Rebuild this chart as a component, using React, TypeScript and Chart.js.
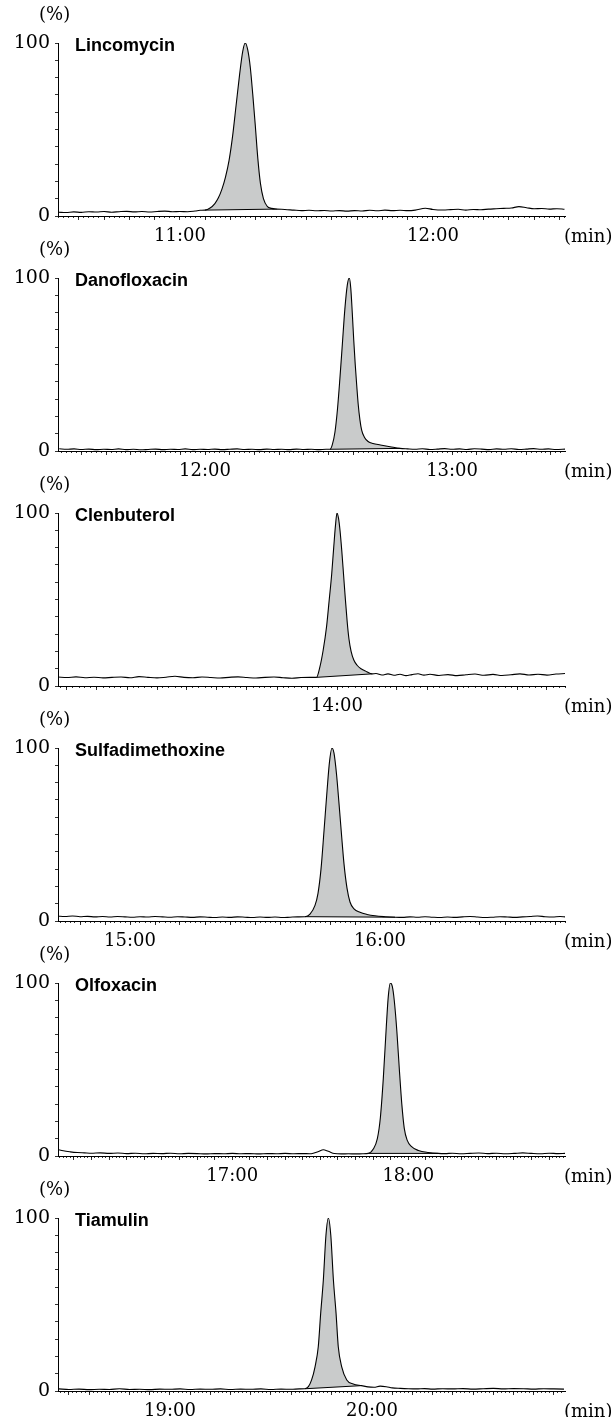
import React, { useEffect, useRef } from "react";
import { Chart, registerables } from "chart.js";

Chart.register(...registerables);

type Pt = [number, number];

// ---------- data (time in min, intensity in %) ----------
const lincomycin: Pt[] = [
  [10.52, 2.2], [10.55, 2.0], [10.58, 2.4], [10.61, 2.1], [10.64, 2.5], [10.67, 2.3], [10.7, 2.6], [10.73, 2.2],
  [10.76, 2.5], [10.79, 2.7], [10.82, 2.4], [10.85, 2.6], [10.88, 2.3], [10.91, 2.6], [10.94, 2.8], [10.97, 2.5],
  [11.0, 2.6], [11.03, 2.5], [11.06, 2.9], [11.08, 3.3],
  [11.099, 3.4], [11.119, 4.6], [11.138, 7.2], [11.152, 10.5], [11.166, 15.5], [11.18, 22.5], [11.194, 32],
  [11.208, 46], [11.222, 64], [11.236, 82], [11.248, 95], [11.258, 100], [11.268, 96], [11.278, 86],
  [11.288, 70], [11.298, 52], [11.308, 33], [11.318, 19], [11.33, 10], [11.345, 5.6], [11.362, 4.4], [11.382, 4.0],
  [11.415, 3.8], [11.45, 3.4], [11.48, 3.1], [11.51, 3.3], [11.54, 3.0], [11.57, 3.2], [11.6, 2.9], [11.63, 3.1],
  [11.66, 2.8], [11.69, 3.1], [11.72, 2.9], [11.75, 3.3], [11.78, 3.0], [11.81, 3.4], [11.84, 3.1], [11.87, 3.3],
  [11.9, 3.1], [11.93, 3.4], [11.97, 4.5], [12.0, 3.8], [12.04, 3.5], [12.07, 3.7], [12.1, 3.9], [12.13, 3.4],
  [12.16, 3.8], [12.19, 3.6], [12.22, 4.0], [12.25, 4.2], [12.28, 4.4], [12.31, 4.6], [12.34, 5.4], [12.37, 4.8],
  [12.4, 4.2], [12.43, 4.3], [12.46, 4.0], [12.49, 4.2], [12.52, 3.9],
];

const danofloxacin: Pt[] = [
  [11.41, 1.3], [11.44, 1.0], [11.47, 1.2], [11.5, 0.9], [11.53, 1.1], [11.56, 0.8], [11.59, 1.0], [11.62, 0.9],
  [11.65, 1.2], [11.68, 0.8], [11.71, 1.0], [11.74, 0.7], [11.77, 0.9], [11.8, 1.1], [11.83, 0.8], [11.86, 1.0],
  [11.89, 0.9], [11.92, 1.2], [11.95, 0.8], [11.98, 1.0], [12.01, 0.9], [12.04, 1.1], [12.07, 0.8], [12.1, 1.0],
  [12.13, 1.2], [12.16, 0.9], [12.19, 1.0], [12.22, 0.8], [12.25, 1.1], [12.28, 0.9], [12.31, 1.0], [12.34, 0.8],
  [12.37, 1.1], [12.4, 0.9], [12.43, 1.0], [12.46, 0.8], [12.49, 1.0],
  [12.506, 1.0], [12.515, 3.5], [12.526, 11], [12.536, 24], [12.546, 42], [12.556, 62], [12.566, 82],
  [12.576, 96], [12.584, 100], [12.59, 94], [12.596, 80], [12.602, 64], [12.608, 50], [12.614, 38],
  [12.62, 27], [12.627, 18], [12.634, 12], [12.645, 8], [12.66, 5.5], [12.68, 4.3], [12.71, 3.5],
  [12.749, 2.5], [12.789, 1.5],
  [12.82, 1.2], [12.85, 1.0], [12.88, 1.3], [12.91, 0.9], [12.94, 1.1], [12.97, 1.4], [13.0, 1.0], [13.03, 1.2],
  [13.06, 0.9], [13.09, 1.3], [13.12, 1.1], [13.15, 0.8], [13.18, 1.2], [13.21, 1.0], [13.24, 1.3], [13.27, 0.9],
  [13.3, 1.1], [13.33, 1.4], [13.36, 1.0], [13.39, 1.2], [13.42, 0.9], [13.46, 1.1],
];

const clenbuterol: Pt[] = [
  [13.07, 5.2], [13.1, 4.9], [13.13, 5.3], [13.16, 4.8], [13.19, 5.1], [13.22, 4.7], [13.25, 5.0], [13.28, 5.2],
  [13.31, 4.8], [13.34, 5.4], [13.37, 5.0], [13.4, 4.7], [13.43, 5.1], [13.46, 5.6], [13.49, 5.0], [13.52, 4.8],
  [13.55, 5.2], [13.58, 4.9], [13.61, 4.6], [13.64, 5.0], [13.67, 5.3], [13.7, 4.9], [13.73, 4.6], [13.76, 5.0],
  [13.79, 5.2], [13.82, 4.8], [13.85, 4.5], [13.88, 4.9], [13.91, 5.0],
  [13.932, 5.0], [13.943, 11], [13.954, 20.8], [13.965, 34], [13.974, 49.7], [13.982, 64], [13.989, 80],
  [13.995, 93], [14.0, 100], [14.005, 97], [14.01, 90], [14.016, 78], [14.022, 64], [14.028, 50], [14.034, 37],
  [14.04, 27], [14.047, 20], [14.056, 15], [14.067, 12], [14.08, 10], [14.099, 8.3], [14.116, 7.0],
  [14.13, 7.2], [14.15, 6.4], [14.17, 7.0], [14.19, 6.2], [14.21, 6.8], [14.23, 6.0], [14.25, 6.6], [14.27, 7.1],
  [14.29, 6.3], [14.31, 6.8], [14.34, 6.1], [14.37, 6.6], [14.4, 6.0], [14.43, 6.5], [14.46, 6.9], [14.49, 6.2],
  [14.52, 6.7], [14.55, 6.1], [14.58, 6.5], [14.61, 7.0], [14.64, 6.4], [14.67, 6.8], [14.7, 6.3], [14.73, 6.9],
  [14.76, 7.2],
];

const sulfadimethoxine: Pt[] = [
  [14.71, 2.8], [14.74, 2.6], [14.77, 2.9], [14.8, 2.5], [14.83, 2.7], [14.86, 2.4], [14.89, 2.6], [14.92, 2.3],
  [14.95, 2.6], [14.98, 2.4], [15.01, 2.2], [15.04, 2.5], [15.07, 2.3], [15.1, 2.6], [15.13, 2.4], [15.16, 2.2],
  [15.19, 2.5], [15.22, 2.3], [15.25, 2.1], [15.28, 2.4], [15.31, 2.2], [15.34, 2.0], [15.37, 2.3], [15.4, 2.1],
  [15.43, 2.4], [15.46, 2.2], [15.49, 2.0], [15.52, 2.3], [15.55, 2.1], [15.58, 2.3], [15.61, 2.0], [15.64, 2.2],
  [15.67, 2.4],
  [15.7, 2.5], [15.72, 4], [15.74, 9], [15.752, 16], [15.764, 30], [15.776, 52], [15.788, 75], [15.798, 92],
  [15.808, 100], [15.816, 97], [15.826, 85], [15.836, 68], [15.846, 50], [15.856, 33], [15.868, 19], [15.88, 11],
  [15.896, 7], [15.92, 5], [15.948, 3.8], [15.98, 3], [16.02, 2.5], [16.06, 2.2],
  [16.09, 2.1], [16.12, 2.4], [16.15, 2.2], [16.18, 2.5], [16.21, 2.2], [16.24, 2.0], [16.27, 2.3], [16.3, 2.1],
  [16.33, 2.4], [16.36, 2.6], [16.39, 2.3], [16.42, 2.0], [16.45, 2.2], [16.48, 2.5], [16.51, 2.3], [16.54, 2.1],
  [16.57, 2.4], [16.6, 2.6], [16.63, 2.9], [16.66, 2.5], [16.69, 2.3], [16.72, 2.6], [16.74, 2.4],
];

const olfoxacin: Pt[] = [
  [16.01, 3.8], [16.04, 3.0], [16.08, 2.4], [16.12, 2.0], [16.16, 1.8], [16.2, 1.6], [16.25, 1.8], [16.3, 1.5],
  [16.35, 1.7], [16.4, 1.4], [16.45, 1.6], [16.5, 1.3], [16.55, 1.5], [16.6, 1.4], [16.65, 1.6], [16.7, 1.3],
  [16.75, 1.5], [16.8, 1.4], [16.85, 1.2], [16.9, 1.4], [16.95, 1.3], [17.0, 1.5], [17.05, 1.3], [17.1, 1.4],
  [17.15, 1.2], [17.2, 1.4], [17.25, 1.3], [17.3, 1.5], [17.35, 1.3], [17.4, 1.4], [17.44, 1.3], [17.46, 1.6],
  [17.49, 2.6], [17.517, 3.6], [17.545, 2.7], [17.58, 1.4], [17.62, 1.2], [17.66, 1.3], [17.7, 1.2], [17.74, 1.3],
  [17.773, 1.5], [17.801, 4], [17.824, 10], [17.841, 22], [17.858, 45], [17.875, 75], [17.886, 92], [17.898, 100],
  [17.909, 98], [17.92, 90], [17.935, 72], [17.949, 50], [17.963, 30], [17.977, 16], [17.994, 9], [18.017, 5.5],
  [18.057, 3.2], [18.114, 2.0], [18.17, 1.5],
  [18.21, 1.4], [18.25, 1.6], [18.3, 1.3], [18.35, 1.5], [18.4, 1.7], [18.45, 1.4], [18.5, 1.6], [18.55, 1.3],
  [18.6, 1.5], [18.65, 1.8], [18.7, 1.5], [18.75, 1.3], [18.8, 1.6], [18.85, 1.4], [18.89, 1.5],
];

const tiamulin: Pt[] = [
  [18.45, 1.2], [18.5, 0.9], [18.55, 1.1], [18.6, 0.8], [18.65, 1.0], [18.7, 0.9], [18.75, 1.3], [18.8, 0.9],
  [18.85, 1.0], [18.9, 0.8], [18.95, 1.1], [19.0, 1.0], [19.05, 1.2], [19.1, 0.9], [19.15, 1.1], [19.2, 1.0],
  [19.25, 1.2], [19.3, 0.9], [19.35, 1.1], [19.4, 1.0], [19.45, 1.2], [19.5, 0.9], [19.55, 1.1], [19.6, 1.0],
  [19.64, 1.2],
  [19.668, 1.3], [19.685, 2.5], [19.701, 6.4], [19.718, 14], [19.734, 25.6], [19.746, 45], [19.759, 64],
  [19.772, 90], [19.784, 100], [19.796, 90], [19.809, 64], [19.822, 45], [19.833, 25.6], [19.85, 14],
  [19.875, 6.4], [19.907, 4], [19.949, 3.1],
  [19.98, 2.4], [20.01, 2.2], [20.04, 2.8], [20.07, 2.5], [20.1, 1.8], [20.14, 1.5], [20.18, 1.3], [20.22, 1.2],
  [20.26, 1.4], [20.3, 1.1], [20.35, 1.3], [20.4, 1.2], [20.45, 1.4], [20.5, 1.1], [20.55, 1.3], [20.6, 1.5],
  [20.65, 1.2], [20.7, 1.4], [20.75, 1.3], [20.8, 1.1], [20.85, 1.3], [20.9, 1.2], [20.95, 1.1],
];

const compounds = ["Lincomycin", "Danofloxacin", "Clenbuterol", "Sulfadimethoxine", "Olfoxacin", "Tiamulin"];
const traces = [lincomycin, danofloxacin, clenbuterol, sulfadimethoxine, olfoxacin, tiamulin];
const peakStart = [11.099, 12.506, 13.932, 15.7, 17.773, 19.668];
const peakEnd = [11.382, 12.789, 14.116, 16.06, 18.17, 19.949];
const axisMin = [10.518, 11.405, 13.07, 14.712, 16.01, 18.446];
const axisMax = [12.522, 13.457, 14.76, 16.74, 18.89, 20.955];
const yTickValues = [0, 10, 20, 30, 40, 50, 60, 70, 80, 90, 100];
const yLabelValues = [0, 100];

// ---------- layout / style ----------
const PITCH = 235;
const CANVAS_H = 250;
const W = 611;
const SERIF = "'DejaVu Serif', serif";
const SANS = "'Liberation Sans', Arial, sans-serif";
const FILL = "#c9cbcb";
const FS = 18;

function stepTicks(min: number, max: number, perMin: number) {
  const out: { value: number }[] = [];
  const start = Math.ceil(min * perMin - 1e-9);
  const end = Math.floor(max * perMin + 1e-9);
  for (let i = start; i <= end; i++) out.push({ value: i / perMin });
  return out;
}

function Panel({ index }: { index: number }) {
  const ref = useRef<HTMLCanvasElement | null>(null);
  useEffect(() => {
    if (!ref.current) return;
    const pts = traces[index].map(([x, y]) => ({ x, y }));
    const s = peakStart[index];
    const e = peakEnd[index];
    const peak = pts.filter((p) => p.x >= s - 1e-9 && p.x <= e + 1e-9);
    const chord = [peak[0], peak[peak.length - 1]];
    const min = axisMin[index];
    const max = axisMax[index];
    const chart = new Chart(ref.current, {
      type: "line",
      data: {
        datasets: [
          {
            data: peak,
            fill: "shape",
            backgroundColor: FILL,
            borderWidth: 0,
            pointRadius: 0,
            cubicInterpolationMode: "monotone",
            order: 3,
          } as any,
          {
            data: chord,
            borderColor: "#000",
            borderWidth: 1,
            pointRadius: 0,
            fill: false,
            order: 2,
          },
          {
            data: pts,
            borderColor: "#000",
            borderWidth: 1.1,
            pointRadius: 0,
            fill: false,
            cubicInterpolationMode: "monotone",
            order: 1,
          },
        ],
      },
      options: {
        animation: false,
        responsive: false,
        events: [],
        layout: { padding: { top: 43, right: W - 565, left: 0, bottom: 0 } },
        plugins: { legend: { display: false }, tooltip: { enabled: false }, title: { display: false } },
        scales: {
          xm: {
            type: "linear",
            position: "bottom",
            min,
            max,
            weight: 0,
            afterBuildTicks: (sc: any) => {
              sc.ticks = stepTicks(min, max, 50);
            },
            afterFit: (sc: any) => {
              sc.height = 0;
            },
            ticks: { display: false, autoSkip: false },
            grid: { drawOnChartArea: false, tickLength: 2, color: "#000", tickColor: "#000", tickWidth: 0.8 },
            border: { display: false },
          },
          x: {
            type: "linear",
            position: "bottom",
            min,
            max,
            weight: 1,
            afterBuildTicks: (sc: any) => {
              sc.ticks = stepTicks(min, max, 10);
            },
            afterFit: (sc: any) => {
              sc.height = CANVAS_H - 216;
            },
            ticks: {
              autoSkip: false,
              maxRotation: 0,
              minRotation: 0,
              padding: 6,
              color: "#000",
              font: { family: SERIF, size: FS },
              callback: (v: any) => {
                const n = Number(v);
                return Math.abs(n - Math.round(n)) < 1e-6 ? `${Math.round(n)}:00` : "";
              },
            },
            grid: { drawOnChartArea: false, tickLength: 4, color: "#000", tickColor: "#000", tickWidth: 0.8 },
            border: { display: true, color: "#000", width: 1 },
          },
          y: {
            type: "linear",
            min: 0,
            max: 100,
            afterBuildTicks: (sc: any) => {
              sc.ticks = yTickValues.map((v) => ({ value: v }));
            },
            afterFit: (sc: any) => {
              sc.width = 58;
            },
            ticks: {
              autoSkip: false,
              padding: 5,
              color: "#000",
              font: { family: SERIF, size: FS + 1 },
              callback: (v: any) => (yLabelValues.includes(Number(v)) ? String(v) : ""),
            },
            grid: { drawOnChartArea: false, tickLength: 3, color: "#000", tickColor: "#000", tickWidth: 0.8 },
            border: { display: true, color: "#000", width: 1 },
          },
        },
      } as any,
    });
    return () => chart.destroy();
  }, [index]);

  const top = index * PITCH;
  return (
    <>
      <canvas
        ref={ref}
        width={W}
        height={CANVAS_H}
        style={{ position: "absolute", left: 0, top, width: W, height: CANVAS_H }}
      />
      <div
        style={{
          position: "absolute",
          left: 39,
          top: top + 4,
          fontFamily: SERIF,
          fontSize: FS,
          lineHeight: "20px",
          color: "#000",
        }}
      >
        (%)
      </div>
      <div
        style={{
          position: "absolute",
          left: 75,
          top: top + 35,
          fontFamily: SANS,
          fontWeight: "bold",
          fontSize: 18,
          lineHeight: "20px",
          color: "#000",
        }}
      >
        {compounds[index]}
      </div>
      <div
        style={{
          position: "absolute",
          left: 564,
          top: top + 226,
          fontFamily: SERIF,
          fontSize: FS,
          lineHeight: "20px",
          color: "#000",
          whiteSpace: "nowrap",
        }}
      >
        (min)
      </div>
    </>
  );
}

export default function App() {
  return (
    <div
      style={{
        position: "absolute",
        left: 0,
        top: 0,
        width: W,
        height: 1417,
        overflow: "hidden",
        background: "#fff",
      }}
    >
      {compounds.map((_, i) => (
        <Panel key={i} index={i} />
      ))}
    </div>
  );
}
